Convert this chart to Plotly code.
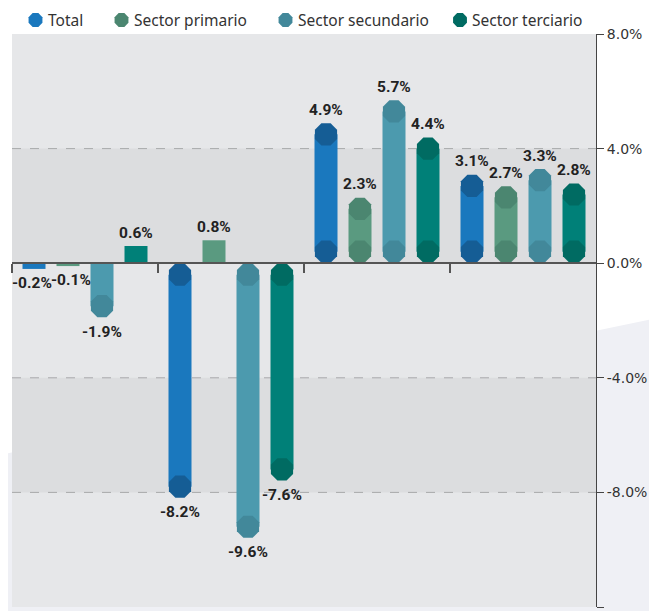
import math
import plotly.graph_objects as go

# ---------------- data ----------------
periods = [0, 1, 2, 3]  # four unlabeled periods
series_names = ["Total", "Sector primario", "Sector secundario", "Sector terciario"]
total = [-0.2, -8.2, 4.9, 3.1]
primario = [-0.1, 0.8, 2.3, 2.7]
secundario = [-1.9, -9.6, 5.7, 3.3]
terciario = [0.6, -7.6, 4.4, 2.8]
y_ticks = [8, 4, 0, -4, -8, -12]

series_values = [total, primario, secundario, terciario]
bar_colors = ["#1a78be", "#5a9a80", "#4c9aae", "#008078"]
cap_colors = ["#155d95", "#4b8670", "#42889a", "#006b62"]
# small horizontal nudges (px) for labels of the first period, to keep adjacent labels apart
first_label_dx = [-2, 3, 0, 0]

# ---------------- geometry ----------------
OFF = 8  # page body margin in the browser
W, H = 657 - OFF, 611 - OFF
ML, MR, MT, MB = 12 - OFF, 61, 34 - OFF, 4
PW, PH = W - ML - MR, H - MT - MB
YMIN, YMAX = -12, 8
XMIN, XMAX = -0.5, 3.5
px_per_y = PH / (YMAX - YMIN)
px_per_x = PW / (XMAX - XMIN)

bar_px = 23
slot_px = 34
bar_w = bar_px / px_per_x
slot = slot_px / px_per_x
cap_r = (bar_px / 2) / px_per_y


def pxx(x):
    return (x - OFF - ML) / PW


def pxy(y):
    return (H - MB - (y - OFF)) / PH


fig = go.Figure()

annotations = []
for i, (name, vals) in enumerate(zip(series_names, series_values)):
    off = (i - 1.5) * slot
    xs = [p + off for p in periods]
    bases, ends, cx, cy = [], [], [], []
    for x, v in zip(xs, vals):
        s = 1 if v > 0 else -1
        end = v
        base = 0
        if abs(v) > 1:
            end = v - s * cap_r
            cx.append(x)
            cy.append(end)
        if abs(v) > 2:
            base = s * cap_r
            cx.append(x)
            cy.append(base)
        bases.append(base)
        ends.append(end - base)
    fig.add_trace(go.Bar(
        x=xs, y=ends, base=bases, width=bar_w,
        marker=dict(color=bar_colors[i], line=dict(width=0)),
        showlegend=False, name=name, hoverinfo="skip", cliponaxis=False))
    fig.add_trace(go.Scatter(
        x=cx, y=cy, mode="markers", showlegend=False, hoverinfo="skip",
        marker=dict(symbol="octagon", size=bar_px + 1, color=cap_colors[i], line=dict(width=0)),
        cliponaxis=False))
    for j, (x, v) in enumerate(zip(xs, vals)):
        dx = first_label_dx[i] if j == 0 else 0
        annotations.append(dict(
            x=x, y=v, xref="x", yref="y", text=f"{v:.1f}%", showarrow=False,
            yshift=13 if v > 0 else -14, xshift=dx, yanchor="middle",
            font=dict(family="Roboto", size=15.5, color="#222222", weight="bold")))

# ---------------- manual legend ----------------
legend_marker_x = [35.5, 121.5, 285.5, 460]
legend_y = 20
shapes = []
# decorative background polygon
shapes.append(dict(type="path", xref="paper", yref="paper", layer="below",
                   path=f"M {pxx(-5)} {pxy(456)} L {pxx(662)} {pxy(317)} L {pxx(662)} {pxy(620)} L {pxx(-5)} {pxy(620)} Z",
                   fillcolor="#eff0f5", line=dict(width=0)))
# plot area background
shapes.append(dict(type="rect", xref="paper", yref="paper", layer="below",
                   x0=0, x1=1, y0=0, y1=1, fillcolor="#e6e7e9", line=dict(width=0)))
# darker bands
for a, b in [(4, 0), (-4, -8)]:
    shapes.append(dict(type="rect", xref="paper", yref="y", layer="below",
                       x0=0, x1=1, y0=b, y1=a, fillcolor="#dcdddf", line=dict(width=0)))
# dashed gridlines
for t in y_ticks:
    if t not in (0, YMAX, YMIN):
        shapes.append(dict(type="line", xref="paper", yref="y", layer="below",
                           x0=0, x1=1, y0=t, y1=t, line=dict(color="#a8a9ab", width=1, dash="dash")))

r = 7.5
for i, name in enumerate(series_names):
    cxp = legend_marker_x[i]
    pts = []
    for k in range(8):
        ang = math.radians(22.5 + 45 * k)
        pts.append((pxx(cxp + r * math.cos(ang)), pxy(legend_y + r * math.sin(ang))))
    path = "M " + " L ".join(f"{a:.5f} {b:.5f}" for a, b in pts) + " Z"
    shapes.append(dict(type="path", xref="paper", yref="paper", path=path,
                       fillcolor=cap_colors[i] if i else bar_colors[0], line=dict(width=0)))
    annotations.append(dict(
        x=pxx(cxp + 10), y=pxy(legend_y), xref="paper", yref="paper", text=name,
        showarrow=False, xanchor="left", yanchor="middle",
        font=dict(family="Noto Sans", size=15.5, color="#333333")))

fig.update_layout(
    width=W, height=H, autosize=False,
    margin=dict(l=ML, r=MR, t=MT, b=MB, pad=0),
    paper_bgcolor="#ffffff", plot_bgcolor="rgba(0,0,0,0)",
    barmode="overlay", showlegend=False,
    shapes=shapes, annotations=annotations,
    xaxis=dict(range=[XMIN, XMAX], anchor="free", position=(0 - YMIN) / (YMAX - YMIN),
               tickvals=[p - 0.5 for p in periods], ticks="outside", ticklen=9, tickwidth=1.5,
               tickcolor="#555555", showline=True, linecolor="#555555", linewidth=1.5,
               showticklabels=False, showgrid=False, zeroline=False, fixedrange=True),
    yaxis=dict(range=[YMIN, YMAX], side="right", tickvals=y_ticks,
               ticktext=[f"{t:.1f}%" for t in y_ticks], ticks="outside", ticklen=7,
               tickcolor="#444444", showline=True, linecolor="#444444", linewidth=1,
               showgrid=False, zeroline=False, automargin=False,
               tickfont=dict(family="DejaVu Sans", size=14, color="#333333"),
               fixedrange=True),
)

fig.write_html("out.html")
